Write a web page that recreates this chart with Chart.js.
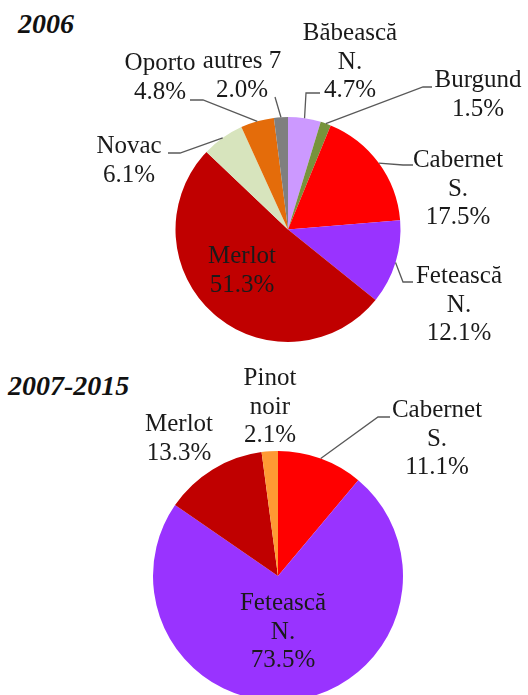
<!DOCTYPE html>
<html>
<head>
<meta charset="utf-8">
<script src="https://cdn.jsdelivr.net/npm/chart.js@4"></script>
<style>
	html, body { margin: 0; padding: 0; background: #fff; overflow: hidden; font-family: 'Liberation Serif'; }
	body { width: 528px; height: 695px; position: relative; }
	canvas { position: absolute; left: 0; }
	.titre { position: absolute; font-family: 'Liberation Serif'; font-style: italic; font-weight: bold; font-size: 28px; line-height: 28px; color: #111; }
	.amorce { position: absolute; left: 0; top: 0; font-family: 'Liberation Serif'; font-size: 25px; color: transparent; }
</style>
</head>
<body>
<span class="amorce">Băbească 0123456789%</span>
<div class="titre" style="left:18px;top:9.5px;">2006</div>
<canvas id="pie-2006" width="528" height="360" style="top:0px;"></canvas>
<div class="titre" style="left:8px;top:371.5px;">2007-2015</div>
<canvas id="pie-2015" width="528" height="350" style="top:360px;"></canvas>
<script>
// parts des cépages (%)
var cepages2006 = ["Băbească N.", "Burgund", "Cabernet S.", "Fetească N.", "Merlot", "Novac", "Oporto", "autres 7"];
var parts2006 = [4.7, 1.5, 17.5, 12.1, 51.3, 6.1, 4.8, 2.0];
var couleurs2006 = ["#CC99FF", "#77933C", "#FF0000", "#9933FF", "#C00000", "#D7E4BD", "#E46C0A", "#7F7F7F"];

var cepages2015 = ["Cabernet S.", "Fetească N.", "Merlot", "Pinot noir"];
var parts2015 = [11.1, 73.5, 13.3, 2.1];
var couleurs2015 = ["#FF0000", "#9933FF", "#C00000", "#FF9933"];

// where each label sits (canvas coords) and the bend of its leader line
var etiquettes2006 = [
	{x: 350, y: 40, wrap: true, leader: [[306, 93], [320, 93]]},
	{x: 478, y: 87, wrap: false, leader: [[423, 87], [432, 87]]},
	{x: 458, y: 167, wrap: true, leader: [[403, 165], [413, 165]]},
	{x: 459, y: 283, wrap: true, leader: [[403, 282], [413, 282]]},
	{x: 242, y: 263, wrap: false},
	{x: 129, y: 153, wrap: false, leader: [[180, 153], [168, 153]]},
	{x: 160, y: 70, wrap: false, leader: [[203, 100], [190, 100]]},
	{x: 242, y: 68, wrap: false, leader: [[275, 97]]}
];
var etiquettes2015 = [
	{x: 437, y: 57, wrap: true, leader: [[378, 57], [390, 57]]},
	{x: 283, y: 250, wrap: true},
	{x: 179, y: 71, wrap: false},
	{x: 270, y: 25, wrap: true}
];

function etiquettes(spots){
	return {
		id: 'etiquettes',
		afterDraw: function(chart){
			var ctx = chart.ctx;
			var meta = chart.getDatasetMeta(0);
			var noms = chart.data.labels;
			var vals = chart.data.datasets[0].data;
			ctx.save();
			ctx.font = "25px 'Liberation Serif'";
			ctx.textAlign = 'center';
			ctx.textBaseline = 'alphabetic';
			ctx.fillStyle = '#1a1a1a';
			ctx.strokeStyle = '#595959';
			ctx.lineWidth = 1.3;
			for (var i = 0; i < spots.length; i++) {
				var s = spots[i];
				var p = meta.data[i].getProps(['x', 'y', 'startAngle', 'endAngle', 'outerRadius'], true);
				var mid = (p.startAngle + p.endAngle) / 2;
				if (s.leader) {
					ctx.beginPath();
					ctx.moveTo(p.x + Math.cos(mid) * p.outerRadius, p.y + Math.sin(mid) * p.outerRadius);
					s.leader.forEach(function(pt){ ctx.lineTo(pt[0], pt[1]); });
					ctx.stroke();
				}
				var lignes = s.wrap ? noms[i].split(' ') : [noms[i]];
				lignes.push(vals[i].toFixed(1) + '%');
				for (var k = 0; k < lignes.length; k++) {
					ctx.fillText(lignes[k], s.x, s.y + k * 28.5);
				}
			}
			ctx.restore();
		}
	};
}

function camembert(id, noms, parts, couleurs, spots, padding){
	return new Chart(document.getElementById(id), {
		type: 'pie',
		data: {
			labels: noms,
			datasets: [{
				data: parts,
				backgroundColor: couleurs,
				borderWidth: 0
			}]
		},
		options: {
			responsive: false,
			animation: false,
			layout: { padding: padding },
			plugins: {
				legend: { display: false },
				tooltip: { enabled: false }
			}
		},
		plugins: [etiquettes(spots)]
	});
}

camembert("pie-2006", cepages2006, parts2006, couleurs2006, etiquettes2006,
	{left: 175.5, right: 127.5, top: 117, bottom: 18});
camembert("pie-2015", cepages2015, parts2015, couleurs2015, etiquettes2015,
	{left: 153, right: 125, top: 91, bottom: 9});
</script>
</body>
</html>
